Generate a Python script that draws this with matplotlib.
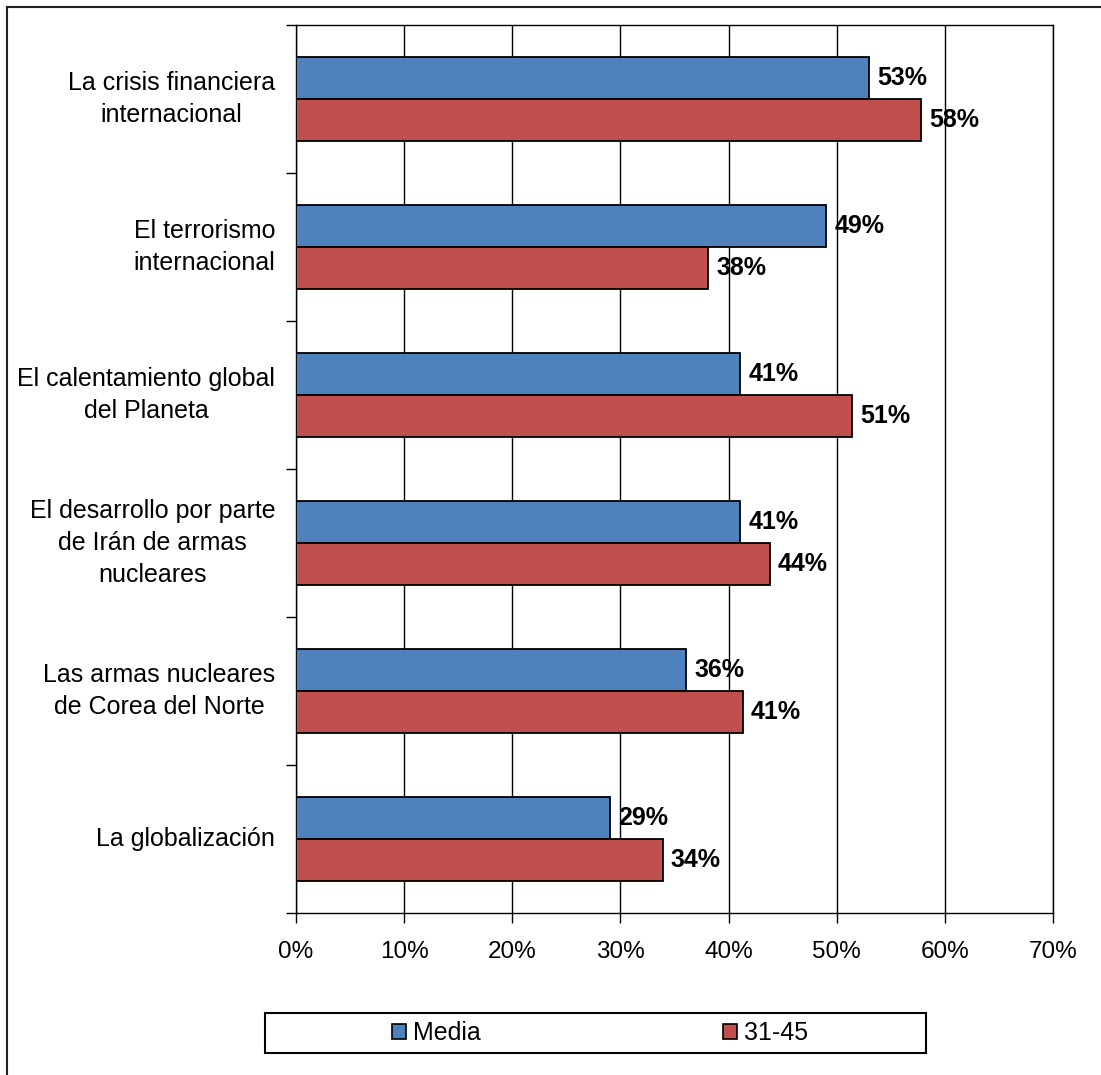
import numpy as np
import matplotlib.pyplot as plt
from matplotlib.patches import Rectangle, Patch
from matplotlib.lines import Line2D

plt.rcParams['font.family'] = ['Liberation Sans', 'DejaVu Sans']

# data
categories = ["La crisis financiera\ninternacional",
              "El terrorismo\ninternacional",
              "El calentamiento global\ndel Planeta",
              "El desarrollo por parte\nde Irán de armas\nnucleares",
              "Las armas nucleares\nde Corea del Norte",
              "La globalización"]
media = [53.0, 49.0, 41.1, 41.1, 36.1, 29.0]
grupo = [57.8, 38.1, 51.4, 43.8, 41.3, 33.9]
series_names = ["Media", "31-45"]
xticks = [0, 10, 20, 30, 40, 50, 60, 70]

c_blue = '#4F81BD'
c_red = '#C0504D'

W, H = 1101, 1075
fig = plt.figure(figsize=(W / 100, H / 100), dpi=100)
ax = fig.add_axes([296 / W, 1 - 913 / H, (1053 - 296) / W, (913 - 25) / H])

y = np.arange(len(categories))
bh = 0.286
b1 = ax.barh(y - bh / 2, media, height=bh, color=c_blue, edgecolor='black', linewidth=1.3, zorder=3)
b2 = ax.barh(y + bh / 2, grupo, height=bh, color=c_red, edgecolor='black', linewidth=1.3, zorder=3)

for bars in (b1, b2):
    for r in bars:
        v = r.get_width()
        ax.annotate(f"{round(v):.0f}%", (v, r.get_y() + r.get_height() / 2),
                    xytext=(6, 0), textcoords='offset points', va='center', ha='left',
                    fontsize=18, fontweight='bold', zorder=4)

ax.set_xlim(0, 70)
ax.set_ylim(len(categories) - 0.5, -0.5)
ax.set_xticks(xticks)
ax.set_xticklabels([f"{t}%" for t in xticks], fontsize=17.5)
ax.tick_params(axis='x', length=7, width=1, pad=13.5, direction='out')

ax.set_yticks(np.arange(len(categories) + 1) - 0.5)
ax.set_yticklabels([])
ax.set_yticks(y, minor=True)
ax.set_yticklabels(categories, minor=True, fontsize=18, multialignment='center',
                   linespacing=1.4, va='center')
ax.tick_params(axis='y', which='major', length=7, width=1, direction='out')
ax.tick_params(axis='y', which='minor', length=0, pad=15)

ax.grid(axis='x', color='black', linewidth=1, zorder=0)
ax.set_axisbelow(True)
for s in ax.spines.values():
    s.set_color('black')
    s.set_linewidth(1)

# legend frame and entries
fig.patches.append(Rectangle((265 / W, 1 - 1053 / H), (926 - 265) / W, 40 / H,
                             transform=fig.transFigure, fill=False, edgecolor='black', linewidth=1.5))
handles = [Patch(facecolor=c_blue, edgecolor='black', linewidth=1.2),
           Patch(facecolor=c_red, edgecolor='black', linewidth=1.2)]
fig.legend(handles, series_names, loc='center', bbox_to_anchor=(600 / W, 1 - 1033 / H),
           ncol=2, frameon=False, fontsize=18, handlelength=0.56, handleheight=0.56,
           handletextpad=0.28, columnspacing=9.7)

# outer chart frame
fig.lines.append(Line2D([7 / W, 1], [1 - 7 / H, 1 - 7 / H], transform=fig.transFigure, color='#222222', linewidth=1.5))
fig.lines.append(Line2D([7 / W, 7 / W], [0, 1 - 7 / H], transform=fig.transFigure, color='#222222', linewidth=1.5))

fig.savefig('out.png', dpi=100)
